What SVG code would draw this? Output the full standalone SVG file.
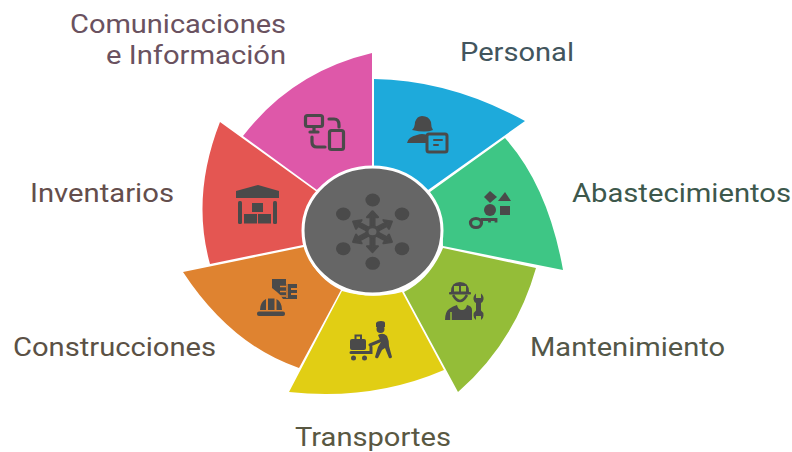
<svg xmlns="http://www.w3.org/2000/svg" width="792" height="452" viewBox="0 0 792 452">
<style>
text{font-family:Roboto,"Liberation Sans",sans-serif;font-size:25.5px;font-weight:400}
.i{fill:#4a4a4a;stroke:none}
.s{fill:none;stroke:#4a4a4a;stroke-width:3.2;stroke-linecap:round;stroke-linejoin:round}
.spoke{fill:#4a4a4a;stroke:#4a4a4a;stroke-width:2;stroke-linejoin:round}
</style>
<defs>
<path id="spoke" class="spoke" d="M-1.800 -5H1.800V-14.500H5L0 -20.500L-5 -14.500H-1.800Z"/>
</defs>
<rect width="792" height="452" fill="#fff"/>
<g id="comunicaciones">
<path d="M372 53Q292 72 243 136L317 190Q341 170 372 167Z" fill="#de58a9"/>
<g><rect x="305.500" y="115.500" width="17" height="11" rx="2" class="s"/><path class="s" d="M314 127V131M310 132H318"/><path class="s" d="M329 119H334Q339 119 339 125V127M312 137V142Q312 147 317 147H325"/><rect x="329.500" y="130.500" width="14" height="19" rx="2" class="s"/></g>
<text x="70" y="33" textLength="216" lengthAdjust="spacingAndGlyphs" fill="#6a5260">Comunicaciones</text>
<text x="106" y="64" textLength="180" lengthAdjust="spacingAndGlyphs" fill="#6a5260">e Información</text>
</g>
<g id="personal">
<path d="M374 79Q450 80 525 121L428 190Q405 170 374 167Z" fill="#1eaadb"/>
<g><path class="i" d="M412 130Q415 127 415 122Q417 116 422 116Q429 116 431 122Q431 127 433 130Q426 133 412 130Z"/><path class="i" d="M407 143Q408 137 417 135Q422 133 427 135V143Z"/><rect x="427" y="134" width="20" height="18" rx="2" fill="#1eaadb" stroke="#4a4a4a" stroke-width="3"/><path d="M434 140H442M434 145H438" stroke="#4a4a4a" stroke-width="2" stroke-linecap="round"/></g>
<text x="460" y="61" textLength="114" lengthAdjust="spacingAndGlyphs" fill="#42555d">Personal</text>
</g>
<g id="abastecimientos">
<path d="M505 138Q548 186 563 270L443 246Q443 215 430 192Z" fill="#3ec685"/>
<g><path class="i" d="M490 191L497 197L490 203L484 197Z"/><path class="i" d="M505 192L511 201H498Z"/><circle class="i" cx="490" cy="210" r="6"/><rect class="i" x="500" y="206" width="10" height="9"/><ellipse cx="476" cy="223" rx="5.500" ry="4.500" fill="none" stroke="#4a4a4a" stroke-width="3.200"/><path d="M481 219.500H496V222.500M489.500 219.500V222.500" fill="none" stroke="#4a4a4a" stroke-width="2.800"/></g>
<text x="572" y="202" textLength="219" lengthAdjust="spacingAndGlyphs" fill="#3d584c">Abastecimientos</text>
</g>
<g id="mantenimiento">
<path d="M536 268Q515 342 458 392L404 292Q430 279 443 248Z" fill="#94bd38"/>
<g><path class="i" d="M451 292Q451 282 460 282Q469 282 469 292Z"/><rect x="454" y="286" width="5" height="5.500" fill="#94bd38"/><rect x="461" y="286" width="5" height="5.500" fill="#94bd38"/><rect class="i" x="449" y="292" width="22" height="2.500" rx="1"/><path d="M453 295Q460 307 467 295" fill="none" stroke="#4a4a4a" stroke-width="2.500"/><path class="i" d="M445 320Q445 312 449 309Q453 306 457 305Q458 310 462 310Q466 310 467 305Q472 306 472 310V320Z"/><path d="M451 320V312" stroke="#94bd38" stroke-width="1.500"/><path class="i" d="M476 293.500V298H481V293.500Q484 296 483.500 299.500Q483 302 481 303V310.500Q483.500 312 483.500 315.500Q483.500 318.500 481 320V316H476V320Q473.500 318.500 473.500 315.500Q473.500 312 476 310.500V303Q474 302 473.500 299.500Q473 296 476 293.500Z"/></g>
<text x="530" y="356" textLength="195" lengthAdjust="spacingAndGlyphs" fill="#535748">Mantenimiento</text>
</g>
<g id="transportes">
<path d="M444 370Q372 401 289 392L342 291Q372 300 402 292Z" fill="#e1ce14"/>
<g><rect class="i" x="350" y="339" width="16" height="11" rx="2"/><path d="M355.500 339V335.500H361V339" fill="none" stroke="#4a4a4a" stroke-width="2"/><path d="M351 352.500H371V347" fill="none" stroke="#4a4a4a" stroke-width="3" stroke-linecap="round"/><circle class="i" cx="353.500" cy="358" r="2.500"/><circle class="i" cx="364.500" cy="358" r="2.500"/><path class="i" d="M376 327V323Q377 321 381 321Q385 321 385 323V327Z"/><circle class="i" cx="380.500" cy="329" r="4"/><path d="M370 345L382 340" fill="none" stroke="#4a4a4a" stroke-width="3" stroke-linecap="round"/><path class="i" d="M378 335Q383 332 387 336Q389 340 389 346L392 357Q391 359 389 358L385 348L382 350L378 358Q376 359 375 357L378 347L381 342Z"/></g>
<text x="295" y="446" textLength="156" lengthAdjust="spacingAndGlyphs" fill="#595842">Transportes</text>
</g>
<g id="construcciones">
<path d="M183 272Q231 345 299 368L341 290Q315 278 304 247Z" fill="#df8330"/>
<g><path class="i" d="M272 279H286V284H297V288H291V290H297V293H291V295H297V299H283Q281 295 277 292L272 288Z"/><path d="M280 286.500H286M280 291.500H286M280 296H286M287 284V298" stroke="#df8330" stroke-width="1.500"/><path class="i" d="M260 310Q260 302 266 299V310ZM268 310V298.500H274.500V310ZM276.500 310V299Q282 302 282 310Z"/><rect class="i" x="257" y="311.500" width="28" height="4.500" rx="2"/></g>
<text x="13" y="356" textLength="203" lengthAdjust="spacingAndGlyphs" fill="#5b5145">Construcciones</text>
</g>
<g id="inventarios">
<path d="M220 122Q191 196 210 264L303 245Q300 215 317 192Z" fill="#e45652"/>
<g><path class="i" d="M236 198V191L258 185L279 191V198Z"/><rect class="i" x="238" y="201" width="4" height="23" rx="1.500"/><rect class="i" x="273" y="201" width="4" height="23" rx="1.500"/><rect class="i" x="252" y="203" width="11" height="9"/><rect class="i" x="244" y="214" width="13" height="9.500"/><rect class="i" x="258" y="214" width="13" height="9.500"/></g>
<text x="30" y="202" textLength="144" lengthAdjust="spacingAndGlyphs" fill="#644e4c">Inventarios</text>
</g>
<g id="centro">
<ellipse cx="372.500" cy="230.500" rx="69.500" ry="63.500" fill="#666" stroke="#fff" stroke-width="3"/>
<g class="i"><ellipse cx="372.700" cy="200" rx="7.300" ry="6.500"/><ellipse cx="372.700" cy="263.300" rx="7.300" ry="6.500"/><ellipse cx="343.300" cy="214" rx="7.300" ry="6.500"/><ellipse cx="402" cy="214" rx="7.300" ry="6.500"/><ellipse cx="343.300" cy="248.700" rx="7.300" ry="6.500"/><ellipse cx="402" cy="248.700" rx="7.300" ry="6.500"/></g>
<use href="#spoke" transform="translate(372.500 231.700) scale(1.09 1)"/>
<use href="#spoke" transform="translate(372.500 231.700) scale(1.09 1) rotate(60)"/>
<use href="#spoke" transform="translate(372.500 231.700) scale(1.09 1) rotate(120)"/>
<use href="#spoke" transform="translate(372.500 231.700) scale(1.09 1) rotate(180)"/>
<use href="#spoke" transform="translate(372.500 231.700) scale(1.09 1) rotate(240)"/>
<use href="#spoke" transform="translate(372.500 231.700) scale(1.09 1) rotate(300)"/>
<ellipse cx="372.500" cy="231.700" rx="5.500" ry="5" fill="#666" stroke="#4a4a4a" stroke-width="3"/>
</g>
</svg>
